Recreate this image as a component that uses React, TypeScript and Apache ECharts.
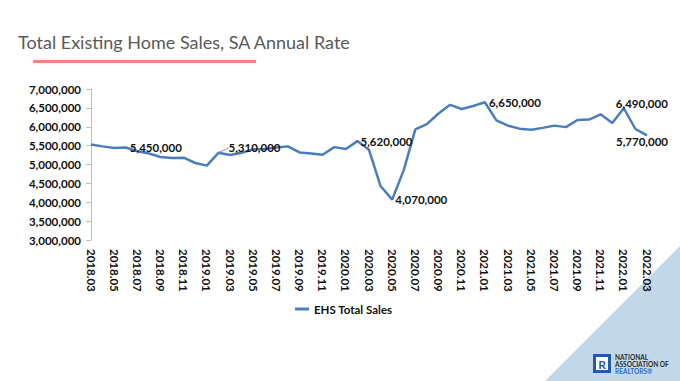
import React, { useEffect, useRef } from "react";
import * as echarts from "echarts";

const months = [
  "2018.03","2018.04","2018.05","2018.06","2018.07","2018.08","2018.09","2018.10","2018.11","2018.12",
  "2019.01","2019.02","2019.03","2019.04","2019.05","2019.06","2019.07","2019.08","2019.09","2019.10","2019.11","2019.12",
  "2020.01","2020.02","2020.03","2020.04","2020.05","2020.06","2020.07","2020.08","2020.09","2020.10","2020.11","2020.12",
  "2021.01","2021.02","2021.03","2021.04","2021.05","2021.06","2021.07","2021.08","2021.09","2021.10","2021.11","2021.12",
  "2022.01","2022.02","2022.03",
];

const ehsTotalSales = [
  5530000, 5480000, 5440000, 5450000, 5350000, 5290000, 5200000, 5170000, 5180000, 5040000,
  4970000, 5310000, 5250000, 5310000, 5400000, 5410000, 5450000, 5480000, 5320000, 5290000, 5260000, 5460000,
  5410000, 5620000, 5390000, 4430000, 4070000, 4850000, 5930000, 6070000, 6350000, 6580000, 6470000, 6550000,
  6650000, 6170000, 6030000, 5950000, 5920000, 5970000, 6030000, 5990000, 6180000, 6190000, 6330000, 6100000,
  6490000, 5940000, 5770000,
];

const labelledMonths = ["2018.06", "2019.02", "2020.02", "2020.05", "2021.01", "2022.01", "2022.03"];

const seriesName = "EHS Total Sales";
const titleText = "Total Existing Home Sales, SA Annual Rate";

const FONT = "Lato, 'Liberation Sans', sans-serif";
const fmt = (v: number) => v.toLocaleString("en-US");

const labelStyles: Record<string, any> = {
  "2018.06": { position: "right", distance: 4 },
  "2019.02": { position: "right", distance: 4 },
  "2020.02": { position: "right", distance: 3 },
  "2020.05": { position: "right", distance: 3 },
  "2021.01": { position: "right", distance: 4 },
  "2022.01": { position: "top", distance: 2 },
  "2022.03": { position: "bottom", distance: 2 },
};

const labelShift: Record<string, { dx: number; dy: number }> = {
  "2019.02": { dx: 6, dy: -5 },
  "2022.01": { dx: 18, dy: 3 },
  "2022.03": { dx: -5, dy: -2 },
};

export default function App() {
  const ref = useRef<HTMLDivElement>(null);
  useEffect(() => {
    document.body.style.margin = "0";
    if (!ref.current) return;
    const chart = echarts.init(ref.current, null, { renderer: "svg" });
    const data = ehsTotalSales.map((v, i) => {
      const m = months[i];
      if (labelledMonths.includes(m)) {
        return {
          value: v,
          label: {
            show: true,
            formatter: (p: any) => fmt(p.value),
            fontFamily: FONT,
            fontWeight: "bold",
            fontSize: 11.5,
            color: "#111",
            ...labelStyles[m],
          },
          labelLine: { show: m === "2019.02", lineStyle: { color: "#8c8c8c", width: 1 } },
        };
      }
      return v;
    });
    chart.setOption({
      animation: false,
      backgroundColor: "#ffffff",
      grid: { left: 91, right: 33, top: 89, bottom: 141, containLabel: false },
      legend: {
        data: [seriesName],
        left: 290,
        top: 298,
        icon: "rect",
        itemWidth: 14,
        itemHeight: 3,
        itemGap: 4,
        textStyle: { fontFamily: FONT, fontWeight: "bold", fontSize: 11.5, color: "#111" },
      },
      xAxis: {
        type: "category",
        data: months,
        boundaryGap: false,
        axisLine: { show: false },
        axisTick: { show: false },
        axisLabel: {
          interval: 1,
          rotate: -90,
          margin: 9,
          fontFamily: FONT,
          fontWeight: "bold",
          fontSize: 11.5,
          color: "#111",
        },
      },
      yAxis: {
        type: "value",
        min: 3000000,
        max: 7000000,
        interval: 500000,
        axisLine: { show: true, lineStyle: { color: "#bfbfbf" } },
        axisTick: { show: true, length: 5, lineStyle: { color: "#bfbfbf" } },
        splitLine: { show: false },
        axisLabel: {
          margin: 10,
          formatter: (v: number) => fmt(v),
          fontFamily: FONT,
          fontWeight: "bold",
          fontSize: 11.5,
          color: "#111",
        },
      },
      series: [
        {
          name: seriesName,
          type: "line",
          data,
          symbol: "circle",
          symbolSize: 0.1,
          showSymbol: true,
          lineStyle: { color: "#4a7ebb", width: 2.5 },
          itemStyle: { color: "#4a7ebb" },
          labelLine: { show: false, lineStyle: { color: "#8c8c8c", width: 1 } },
          labelLayout: (p: any) => {
            const s = labelShift[months[p.dataIndex]];
            return s ? { dx: s.dx, dy: s.dy } : {};
          },
        },
      ],
      graphic: [
        {
          type: "text",
          left: 18,
          top: 33,
          style: { text: titleText, fontFamily: FONT, fontSize: 18, fill: "#595959" },
        },
        { type: "rect", shape: { x: 33, y: 60, width: 223, height: 3 }, style: { fill: "#f4827f" } },
        {
          type: "polygon",
          shape: { points: [[545, 381], [680, 381], [680, 246]] },
          style: { fill: "#c2d8e8" },
          z: -10,
        },
        { type: "rect", shape: { x: 593, y: 354, width: 18, height: 19 }, style: { fill: "#1f5ca8" } },
        { type: "rect", shape: { x: 596, y: 357, width: 12, height: 13 }, style: { fill: "#ffffff" } },
        {
          type: "text",
          x: 602,
          y: 364,
          style: { text: "R", fontFamily: FONT, fontWeight: "bold", fontSize: 12, fill: "#1f5ca8", align: "center", verticalAlign: "middle" },
        },
        {
          type: "text",
          x: 615,
          y: 354,
          style: { text: "NATIONAL\nASSOCIATION OF", fontFamily: FONT, fontWeight: "bold", fontSize: 6.5, lineHeight: 7, fill: "#2b2b2b" },
        },
        {
          type: "text",
          x: 615,
          y: 368,
          style: { text: "REALTORS®", fontFamily: FONT, fontWeight: "bold", fontSize: 6.5, lineHeight: 7, fill: "#2d6cc0" },
        },
      ],
    });
    return () => chart.dispose();
  }, []);
  return <div ref={ref} style={{ width: 680, height: 381 }} />;
}
